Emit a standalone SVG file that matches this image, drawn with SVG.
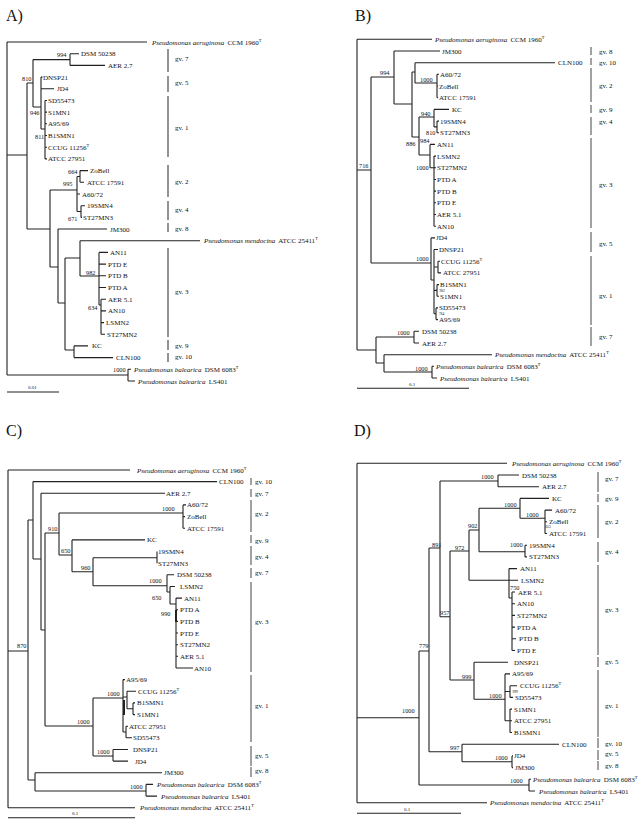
<svg xmlns="http://www.w3.org/2000/svg" width="644" height="826" viewBox="0 0 644 826">
<style>
text{font-family:"Liberation Serif","Times New Roman",serif;fill:#111}
.lf{font-size:7px}
.bs{font-size:6.3px}
.tn{font-size:3.6px}
.gv{font-size:7px}
.pl{font-size:16px}
.sc{font-size:5px}
.it{font-style:italic}
.sp{font-size:4.5px}
.tr{fill:none;stroke:#222;stroke-width:1.1}
.bd{fill:none;stroke:#222;stroke-width:2}
.br{fill:none;stroke:#444;stroke-width:1}
.brA{fill:none;stroke:#888;stroke-width:1.8}
</style>
<rect width="644" height="826" fill="#fff"/>

<g id="panel-labels">
<text class="pl" x="6" y="21">A)</text>
<text class="pl" x="355" y="21">B)</text>
<text class="pl" x="6" y="436">C)</text>
<text class="pl" x="354" y="436">D)</text>
</g>

<g id="connectors">
<path id="treeA" class="tr" d="M7 42V375M7 42H147M7 155H27M7 375H128M128 369.3V381M128 369.3H131M128 381H135M27 83V229M27 83H33M27 229H50M33 59.6V107M33 59.6H70M70 53.7V65.4M70 53.7H79M70 65.4H105M33 107H41M41 77.1V129M41 77.1H42.5M41 88.8H54M41 129H45M45 100.5V158.9M45 100.5H47M45 112.1H47M45 123.8H47M45 135.5H47M45 147.2H47M45 158.9H47M50 190V267M50 190H77M50 267H58M77 176.5V211.5M77 176.5H80M80 170.6V182.3M80 170.6H88M80 182.3H84M77 194H80M77 211.5H81M81 205.7V217.4M81 205.7H85M81 217.4H82M58 229V303M58 229H107M58 303H65M65 258V350M65 258H80M65 350H74M80 240.7V276M80 240.7H200M80 276H99M99 252.4V305M99 252.4H108M99 264.1H106M99 275.8H106M99 287.5H106M99 305H101M101 299.2V334.3M101 299.2H106M101 310.9H106M101 322.6H104M101 334.3H105M74 345.9V357.6M74 345.9H88M74 357.6H113"/>
<path id="scaleA" class="tr" d="M7 392H59"/>

<path id="treeB" class="tr" d="M357 39.3V350M357 39.3H432M357 170H371M357 350H376M371 77V263M371 77H394M371 263H431M394 51V104M394 51H440M394 104H412M412 72V137M412 72H415M412 137H419M415 62.7V83M415 62.7H555M415 83H437M437 74.3V97.7M437 74.3H439M437 86H438M437 97.7H438M419 117V155M419 117H434M419 155H430M434 109.4V126.9M434 109.4H449M434 126.9H437M437 121.1V132.7M437 121.1H439M437 132.7H439M430 144.4V167.8M430 144.4H435M430 167.8H434M434 156.1V226.2M434 156.1H436M434 167.8H436M434 179.5H436M434 191.1H436M434 202.8H436M434 214.5H436M434 226.2H436M431 237.9V280M431 237.9H435M431 280H434M434 249.5V313.8M434 249.5H438M434 267H438M434 290.4H437M434 313.8H436M438 261.2V272.9M438 261.2H440M438 272.9H441M437 284.6V296.3M437 284.6H439M437 296.3H439M436 307.9V319.6M436 307.9H438M436 319.6H438M376 337V363M376 337H414M376 363H384M414 331.3V343M414 331.3H419M414 343H419M384 354.7V372M384 354.7H492M384 372H432M432 366.3V378M432 366.3H434M432 378H437"/>
<path id="scaleB" class="tr" d="M357 388.3H469"/>

<path id="treeC" class="tr" d="M8 470V807.7M8 470H130M8 807.7H135M8 651H28M28 520V780M28 520H33M28 780H35M33 481.6V559M33 481.6H217M33 559H41M41 493.3V630M41 493.3H165M41 630H45M45 533V726M45 533H59M45 726H93M59 513V555M59 513H183M59 555H72M183 504.9V528.2M183 504.9H186M183 516.6H185M183 528.2H185M72 539.9V571.7M72 539.9H145M72 571.7H93M93 557.7V585.7M93 557.7H157M93 585.7H167M157 551.5V563.2M167 574.8V592M167 574.8H174M167 592H170M170 586.5V604M170 586.5H175M170 604H176M176 598.1V668M176 598.1H182M176 609.7H178M176 621.4H178M176 633H178M176 644.7H178M176 656.3H178M176 668H193M93 698V756M93 698H123M93 756H113M123 679.6V732M123 679.6H125M123 697H127M123 732H126M127 691.3V708.8M127 691.3H136M127 708.8H133M133 702.9V714.6M133 702.9H135M133 714.6H135M126 726.2V737.8M126 726.2H128M126 737.8H132M113 749.5V761.1M113 749.5H128M113 761.1H128M35 772.8V791M35 772.8H162M35 791H146M146 784.4V796.1M146 784.4H153M146 796.1H157"/>
<path class="bd" d="M176 610V622M124 700V715"/>
<path id="scaleC" class="tr" d="M8 817.7H135"/>

<path id="treeD" class="tr" d="M357 463.3V802.7M357 463.3H507M357 802.7H487M357 717.7H419M419 651V785M419 651H429M419 785H529M529 779.3V791M529 779.3H531M529 791H535M429 548V751.7M429 548H440M429 751.7H462M462 744.2V761.7M462 744.2H559M462 761.7H512M512 755.9V767.6M512 755.9H513M512 767.6H513M440 481V616.7M440 481H498M440 616.7H450M498 475V486.7M498 475H519M498 486.7H539M450 551V680M450 551H469M450 680H474M469 530V580.3M469 530H479M469 580.3H509M479 508.3V551.7M479 508.3H520M479 551.7H525M520 498.4V518.3M520 498.4H549M520 518.3H545M545 510.1V533.5M545 510.1H552M545 521.8H547M545 533.5H547M525 545.2V556.9M525 545.2H527M525 556.9H527M509 568.6V598M509 568.6H517M509 580.3H518M509 598H512M512 592V650.5M512 592H515M512 603.7H515M512 615.4H515M512 627.1H515M512 638.8H516M512 650.5H515M474 662.2V699.3M474 662.2H508M474 699.3H505M505 673.9V720.8M505 673.9H510M505 691.5H510M505 720.8H510M510 685.7V697.4M510 685.7H517M510 697.4H513M510 709.1V732.5M510 709.1H512M510 720.8H512M510 732.5H512"/>
<path id="scaleD" class="tr" d="M357 813.3H461"/>
</g>

<g id="brackets">
<path class="brA" d="M168 49V72M168 76V92M168 96V157M168 165V197M168 201V220M168 223V232M168 248V337M168 340V350M168 353V362"/>
<path class="br" d="M591 47V55M591 58V65M591 68V102M591 105V113M591 117V135M591 138V228M591 232V252M591 256V325M591 327V346"/>
<path class="br" d="M251 478V485M251 489V497M251 500V532M251 535V543M251 546V565M251 568V578M251 582V672M251 675V742M251 746V766M251 767V777"/>
<path class="br" d="M598 472V492M598 494V502M598 505V538M598 542V562M598 565V655M598 657V667M598 670V737M598 738V748M598 750V760M598 761V770"/>
</g>

<g id="gv-labels">
<text class="gv" x="175" y="61">gv. 7</text>
<text class="gv" x="175" y="84.5">gv. 5</text>
<text class="gv" x="175" y="129.5">gv. 1</text>
<text class="gv" x="175" y="183.5">gv. 2</text>
<text class="gv" x="175" y="211.5">gv. 4</text>
<text class="gv" x="175" y="230.5">gv. 8</text>
<text class="gv" x="175" y="293.5">gv. 3</text>
<text class="gv" x="175" y="347.5">gv. 9</text>
<text class="gv" x="175" y="358.5">gv. 10</text>

<text class="gv" x="599" y="53.5">gv. 8</text>
<text class="gv" x="599" y="64.5">gv. 10</text>
<text class="gv" x="599" y="87.5">gv. 2</text>
<text class="gv" x="599" y="111.5">gv. 9</text>
<text class="gv" x="599" y="123.5">gv. 4</text>
<text class="gv" x="599" y="186.5">gv. 3</text>
<text class="gv" x="599" y="245.5">gv. 5</text>
<text class="gv" x="599" y="297.5">gv. 1</text>
<text class="gv" x="599" y="338.5">gv. 7</text>

<text class="gv" x="255" y="483.5">gv. 10</text>
<text class="gv" x="255" y="495.5">gv. 7</text>
<text class="gv" x="255" y="515.5">gv. 2</text>
<text class="gv" x="255" y="542.5">gv. 9</text>
<text class="gv" x="255" y="558.5">gv. 4</text>
<text class="gv" x="255" y="574.5">gv. 7</text>
<text class="gv" x="255" y="623.5">gv. 3</text>
<text class="gv" x="255" y="707.5">gv. 1</text>
<text class="gv" x="255" y="757.5">gv. 5</text>
<text class="gv" x="255" y="772.5">gv. 8</text>

<text class="gv" x="605" y="480.5">gv. 7</text>
<text class="gv" x="605" y="500.5">gv. 9</text>
<text class="gv" x="605" y="523.5">gv. 2</text>
<text class="gv" x="605" y="553.5">gv. 4</text>
<text class="gv" x="605" y="611.5">gv. 3</text>
<text class="gv" x="605" y="663.5">gv. 5</text>
<text class="gv" x="605" y="707.5">gv. 1</text>
<text class="gv" x="605" y="745.5">gv. 10</text>
<text class="gv" x="605" y="755.5">gv. 5</text>
<text class="gv" x="605" y="767.5">gv. 8</text>
</g>

<g id="scale-labels">
<text class="sc" x="28" y="389">0.01</text>
<text class="sc" x="409" y="386">0.1</text>
<text class="sc" x="72" y="815">0.1</text>
<text class="sc" x="404" y="811">0.1</text>
</g>

<g id="bootstrap">
<text class="bs" x="57" y="56.5">994</text>
<text class="bs" x="22" y="80.5">810</text>
<text class="bs" x="30" y="114.5">946</text>
<text class="bs" x="35" y="138.5">811</text>
<text class="bs" x="68" y="173.5">664</text>
<text class="bs" x="63" y="185.5">995</text>
<text class="bs" x="68" y="220.5">671</text>
<text class="bs" x="86" y="275">982</text>
<text class="bs" x="88" y="309.5">634</text>
<text class="bs" x="113" y="371.5">1000</text>

<text class="bs" x="359" y="168">716</text>
<text class="bs" x="380" y="74.5">994</text>
<text class="bs" x="420" y="81.5">1000</text>
<text class="bs" x="421" y="115.5">940</text>
<text class="bs" x="426" y="134.5">810</text>
<text class="bs" x="406" y="146">886</text>
<text class="bs" x="420" y="143">984</text>
<text class="bs" x="416" y="169.5">1000</text>
<text class="bs" x="416" y="260.5">1000</text>
<text class="bs" x="397" y="334.5">1000</text>
<text class="bs" x="415" y="370.5">1000</text>
<text class="tn" x="439.5" y="291.8">962</text>
<text class="tn" x="439" y="315">764</text>

<text class="bs" x="162" y="510.5">1000</text>
<text class="bs" x="48" y="530.5">910</text>
<text class="bs" x="61" y="552.5">650</text>
<text class="bs" x="81" y="569.5">960</text>
<text class="bs" x="149" y="582.5">1000</text>
<text class="bs" x="152" y="600">650</text>
<text class="bs" x="161" y="615.5">990</text>
<text class="bs" x="17" y="648">870</text>
<text class="bs" x="107" y="695.5">1000</text>
<text class="bs" x="77" y="724">1000</text>
<text class="bs" x="97" y="753.5">1000</text>
<text class="bs" x="130" y="788.5">1000</text>

<text class="bs" x="481" y="479">1000</text>
<text class="bs" x="504" y="506.5">1000</text>
<text class="bs" x="526" y="516.5">1000</text>
<text class="tn" x="545.5" y="527.8">653</text>
<text class="bs" x="468" y="527.5">902</text>
<text class="bs" x="510" y="546.5">1000</text>
<text class="bs" x="432" y="546.5">891</text>
<text class="bs" x="455" y="549.5">972</text>
<text class="bs" x="510" y="589.5">750</text>
<text class="bs" x="440" y="615">957</text>
<text class="bs" x="419" y="648">779</text>
<text class="bs" x="462" y="678.5">999</text>
<text class="bs" x="489" y="698">1000</text>
<text class="tn" x="512.5" y="692.5">999</text>
<text class="bs" x="402" y="712.5">1000</text>
<text class="bs" x="450" y="750">997</text>
<text class="bs" x="495" y="759.5">1000</text>
<text class="bs" x="510" y="783">1000</text>
</g>

<g id="leaves-A">
<g id="A-aeruginosa"><text class="lf" x="152" y="44.5"><tspan class="it">Pseudomonas aeruginosa</tspan> <tspan dx="1.5">CCM 1960</tspan><tspan class="sp" dy="-2.8">T</tspan></text></g>
<g id="A-DSM50238"><text class="lf" x="81" y="56.2">DSM 50238</text></g>
<g id="A-AER2.7"><text class="lf" x="108" y="67.9">AER 2.7</text></g>
<g id="A-DNSP21"><text class="lf" x="43" y="79.6">DNSP21</text></g>
<g id="A-JD4"><text class="lf" x="57" y="91.3">JD4</text></g>
<g id="A-SD55473"><text class="lf" x="48" y="103">SD55473</text></g>
<g id="A-S1MN1"><text class="lf" x="48" y="114.6">S1MN1</text></g>
<g id="A-A95-69"><text class="lf" x="48" y="126.3">A95/69</text></g>
<g id="A-B1SMN1"><text class="lf" x="48" y="138">B1SMN1</text></g>
<g id="A-CCUG"><text class="lf" x="48" y="149.7">CCUG 11256<tspan class="sp" dy="-2.8">T</tspan></text></g>
<g id="A-ATCC27951"><text class="lf" x="48" y="161.4">ATCC 27951</text></g>
<g id="A-ZoBell"><text class="lf" x="90" y="173.1">ZoBell</text></g>
<g id="A-ATCC17591"><text class="lf" x="87" y="184.8">ATCC 17591</text></g>
<g id="A-A60-72"><text class="lf" x="82" y="196.5">A60/72</text></g>
<g id="A-19SMN4"><text class="lf" x="87" y="208.2">19SMN4</text></g>
<g id="A-ST27MN3"><text class="lf" x="83" y="219.9">ST27MN3</text></g>
<g id="A-JM300"><text class="lf" x="110" y="231.5">JM300</text></g>
<g id="A-mendocina"><text class="lf" x="204" y="243.2"><tspan class="it">Pseudomonas mendocina</tspan> <tspan dx="1.5">ATCC 25411</tspan><tspan class="sp" dy="-2.8">T</tspan></text></g>
<g id="A-AN11"><text class="lf" x="110" y="254.9">AN11</text></g>
<g id="A-PTDE"><text class="lf" x="108" y="266.6">PTD E</text></g>
<g id="A-PTDB"><text class="lf" x="108" y="278.3">PTD B</text></g>
<g id="A-PTDA"><text class="lf" x="108" y="290">PTD A</text></g>
<g id="A-AER5.1"><text class="lf" x="108" y="301.7">AER 5.1</text></g>
<g id="A-AN10"><text class="lf" x="108" y="313.4">AN10</text></g>
<g id="A-LSMN2"><text class="lf" x="106" y="325.1">LSMN2</text></g>
<g id="A-ST27MN2"><text class="lf" x="107" y="336.8">ST27MN2</text></g>
<g id="A-KC"><text class="lf" x="92" y="348.4">KC</text></g>
<g id="A-CLN100"><text class="lf" x="116" y="360.1">CLN100</text></g>
<g id="A-balDSM"><text class="lf" x="134" y="371.8"><tspan class="it">Pseudomonas balearica</tspan> <tspan dx="1.5">DSM 6083</tspan><tspan class="sp" dy="-2.8">T</tspan></text></g>
<g id="A-LS401"><text class="lf" x="138" y="383.5"><tspan class="it">Pseudomonas balearica</tspan> <tspan dx="1.5">LS401</tspan></text></g>
</g>

<g id="leaves-B">
<g id="B-aeruginosa"><text class="lf" x="435" y="41.8"><tspan class="it">Pseudomonas aeruginosa</tspan> <tspan dx="1.5">CCM 1960</tspan><tspan class="sp" dy="-2.8">T</tspan></text></g>
<g id="B-JM300"><text class="lf" x="442" y="53.5">JM300</text></g>
<g id="B-CLN100"><text class="lf" x="558" y="65.2">CLN100</text></g>
<g id="B-A60-72"><text class="lf" x="440" y="76.8">A60/72</text></g>
<g id="B-ZoBell"><text class="lf" x="439" y="88.5">ZoBell</text></g>
<g id="B-ATCC17591"><text class="lf" x="439" y="100.2">ATCC 17591</text></g>
<g id="B-KC"><text class="lf" x="452" y="111.9">KC</text></g>
<g id="B-19SMN4"><text class="lf" x="440" y="123.6">19SMN4</text></g>
<g id="B-ST27MN3"><text class="lf" x="440" y="135.2">ST27MN3</text></g>
<g id="B-AN11"><text class="lf" x="437" y="146.9">AN11</text></g>
<g id="B-LSMN2"><text class="lf" x="437" y="158.6">LSMN2</text></g>
<g id="B-ST27MN2"><text class="lf" x="437" y="170.3">ST27MN2</text></g>
<g id="B-PTDA"><text class="lf" x="437" y="182">PTD A</text></g>
<g id="B-PTDB"><text class="lf" x="437" y="193.6">PTD B</text></g>
<g id="B-PTDE"><text class="lf" x="437" y="205.3">PTD E</text></g>
<g id="B-AER5.1"><text class="lf" x="437" y="217">AER 5.1</text></g>
<g id="B-AN10"><text class="lf" x="437" y="228.7">AN10</text></g>
<g id="B-JD4"><text class="lf" x="436" y="240.4">JD4</text></g>
<g id="B-DNSP21"><text class="lf" x="439" y="252">DNSP21</text></g>
<g id="B-CCUG"><text class="lf" x="441" y="263.7">CCUG 11256<tspan class="sp" dy="-2.8">T</tspan></text></g>
<g id="B-ATCC27951"><text class="lf" x="443" y="275.4">ATCC 27951</text></g>
<g id="B-B1SMN1"><text class="lf" x="440" y="287.1">B1SMN1</text></g>
<g id="B-S1MN1"><text class="lf" x="440" y="298.8">S1MN1</text></g>
<g id="B-SD55473"><text class="lf" x="439" y="310.4">SD55473</text></g>
<g id="B-A95-69"><text class="lf" x="439" y="322.1">A95/69</text></g>
<g id="B-DSM50238"><text class="lf" x="422" y="333.8">DSM 50238</text></g>
<g id="B-AER2.7"><text class="lf" x="422" y="345.5">AER 2.7</text></g>
<g id="B-mendocina"><text class="lf" x="495" y="357.2"><tspan class="it">Pseudomonas mendocina</tspan> <tspan dx="1.5">ATCC 25411</tspan><tspan class="sp" dy="-2.8">T</tspan></text></g>
<g id="B-balDSM"><text class="lf" x="436" y="368.8"><tspan class="it">Pseudomonas balearica</tspan> <tspan dx="1.5">DSM 6083</tspan><tspan class="sp" dy="-2.8">T</tspan></text></g>
<g id="B-LS401"><text class="lf" x="440" y="380.5"><tspan class="it">Pseudomonas balearica</tspan> <tspan dx="1.5">LS401</tspan></text></g>
</g>

<g id="leaves-C">
<g id="C-aeruginosa"><text class="lf" x="137" y="472.5"><tspan class="it">Pseudomonas aeruginosa</tspan> <tspan dx="1.5">CCM 1960</tspan><tspan class="sp" dy="-2.8">T</tspan></text></g>
<g id="C-CLN100"><text class="lf" x="219" y="484.1">CLN100</text></g>
<g id="C-AER2.7"><text class="lf" x="166" y="495.8">AER 2.7</text></g>
<g id="C-A60-72"><text class="lf" x="187" y="507.4">A60/72</text></g>
<g id="C-ZoBell"><text class="lf" x="187" y="519.1">ZoBell</text></g>
<g id="C-ATCC17591"><text class="lf" x="187" y="530.7">ATCC 17591</text></g>
<g id="C-KC"><text class="lf" x="147" y="542.4">KC</text></g>
<g id="C-19SMN4"><text class="lf" x="158" y="554">19SMN4</text></g>
<g id="C-ST27MN3"><text class="lf" x="158" y="565.7">ST27MN3</text></g>
<g id="C-DSM50238"><text class="lf" x="177" y="577.3">DSM 50238</text></g>
<g id="C-LSMN2"><text class="lf" x="180" y="589">LSMN2</text></g>
<g id="C-AN11"><text class="lf" x="184" y="600.6">AN11</text></g>
<g id="C-PTDA"><text class="lf" x="180" y="612.2">PTD A</text></g>
<g id="C-PTDB"><text class="lf" x="180" y="623.9">PTD B</text></g>
<g id="C-PTDE"><text class="lf" x="180" y="635.5">PTD E</text></g>
<g id="C-ST27MN2"><text class="lf" x="180" y="647.2">ST27MN2</text></g>
<g id="C-AER5.1"><text class="lf" x="180" y="658.8">AER 5.1</text></g>
<g id="C-AN10"><text class="lf" x="194" y="670.5">AN10</text></g>
<g id="C-A95-69"><text class="lf" x="126" y="682.1">A95/69</text></g>
<g id="C-CCUG"><text class="lf" x="138" y="693.8">CCUG 11256<tspan class="sp" dy="-2.8">T</tspan></text></g>
<g id="C-B1SMN1"><text class="lf" x="137" y="705.4">B1SMN1</text></g>
<g id="C-S1MN1"><text class="lf" x="137" y="717.1">S1MN1</text></g>
<g id="C-ATCC27951"><text class="lf" x="129" y="728.7">ATCC 27951</text></g>
<g id="C-SD55473"><text class="lf" x="133" y="740.3">SD55473</text></g>
<g id="C-DNSP21"><text class="lf" x="133" y="752">DNSP21</text></g>
<g id="C-JD4"><text class="lf" x="135" y="763.6">JD4</text></g>
<g id="C-JM300"><text class="lf" x="164" y="775.3">JM300</text></g>
<g id="C-balDSM"><text class="lf" x="157" y="786.9"><tspan class="it">Pseudomonas balearica</tspan> <tspan dx="1.5">DSM 6083</tspan><tspan class="sp" dy="-2.8">T</tspan></text></g>
<g id="C-LS401"><text class="lf" x="161" y="798.6"><tspan class="it">Pseudomonas balearica</tspan> <tspan dx="1.5">LS401</tspan></text></g>
<g id="C-mendocina"><text class="lf" x="140" y="810.2"><tspan class="it">Pseudomonas mendocina</tspan> <tspan dx="1.5">ATCC 25411</tspan><tspan class="sp" dy="-2.8">T</tspan></text></g>
</g>

<g id="leaves-D">
<g id="D-aeruginosa"><text class="lf" x="512" y="465.8"><tspan class="it">Pseudomonas aeruginosa</tspan> <tspan dx="1.5">CCM 1960</tspan><tspan class="sp" dy="-2.8">T</tspan></text></g>
<g id="D-DSM50238"><text class="lf" x="522" y="477.5">DSM 50238</text></g>
<g id="D-AER2.7"><text class="lf" x="542" y="489.2">AER 2.7</text></g>
<g id="D-KC"><text class="lf" x="552" y="500.9">KC</text></g>
<g id="D-A60-72"><text class="lf" x="555" y="512.6">A60/72</text></g>
<g id="D-ZoBell"><text class="lf" x="549" y="524.3">ZoBell</text></g>
<g id="D-ATCC17591"><text class="lf" x="549" y="536">ATCC 17591</text></g>
<g id="D-19SMN4"><text class="lf" x="529" y="547.7">19SMN4</text></g>
<g id="D-ST27MN3"><text class="lf" x="529" y="559.4">ST27MN3</text></g>
<g id="D-AN11"><text class="lf" x="520" y="571.1">AN11</text></g>
<g id="D-LSMN2"><text class="lf" x="521" y="582.8">LSMN2</text></g>
<g id="D-AER5.1"><text class="lf" x="518" y="594.5">AER 5.1</text></g>
<g id="D-AN10"><text class="lf" x="517" y="606.2">AN10</text></g>
<g id="D-ST27MN2"><text class="lf" x="517" y="617.9">ST27MN2</text></g>
<g id="D-PTDA"><text class="lf" x="517" y="629.6">PTD A</text></g>
<g id="D-PTDB"><text class="lf" x="519" y="641.3">PTD B</text></g>
<g id="D-PTDE"><text class="lf" x="517" y="653">PTD E</text></g>
<g id="D-DNSP21"><text class="lf" x="514" y="664.7">DNSP21</text></g>
<g id="D-A95-69"><text class="lf" x="512" y="676.4">A95/69</text></g>
<g id="D-CCUG"><text class="lf" x="520" y="688.2">CCUG 11256<tspan class="sp" dy="-2.8">T</tspan></text></g>
<g id="D-SD55473"><text class="lf" x="515" y="699.9">SD55473</text></g>
<g id="D-S1MN1"><text class="lf" x="514" y="711.6">S1MN1</text></g>
<g id="D-ATCC27951"><text class="lf" x="514" y="723.3">ATCC 27951</text></g>
<g id="D-B1SMN1"><text class="lf" x="514" y="735">B1SMN1</text></g>
<g id="D-CLN100"><text class="lf" x="562" y="746.7">CLN100</text></g>
<g id="D-JD4"><text class="lf" x="514" y="758.4">JD4</text></g>
<g id="D-JM300"><text class="lf" x="515" y="770.1">JM300</text></g>
<g id="D-balDSM"><text class="lf" x="533" y="781.8"><tspan class="it">Pseudomonas balearica</tspan> <tspan dx="1.5">DSM 6083</tspan><tspan class="sp" dy="-2.8">T</tspan></text></g>
<g id="D-LS401"><text class="lf" x="539" y="793.5"><tspan class="it">Pseudomonas balearica</tspan> <tspan dx="1.5">LS401</tspan></text></g>
<g id="D-mendocina"><text class="lf" x="490" y="805.2"><tspan class="it">Pseudomonas mendocina</tspan> <tspan dx="1.5">ATCC 25411</tspan><tspan class="sp" dy="-2.8">T</tspan></text></g>
</g>
</svg>
